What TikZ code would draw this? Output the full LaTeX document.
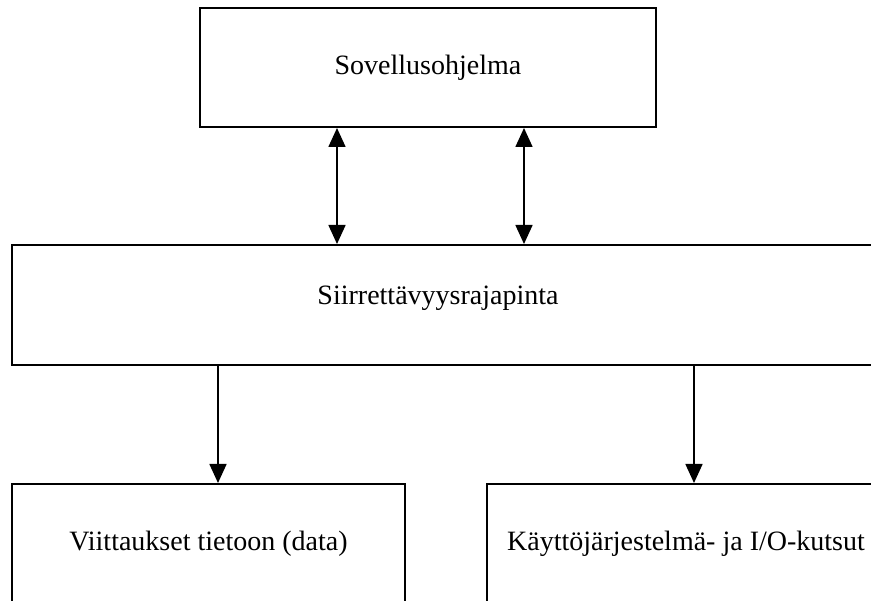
\documentclass[tikz,border=0pt]{standalone}
\usepackage{fontspec}
\setmainfont{Liberation Serif}
\usetikzlibrary{arrows.meta}
\begin{document}
\begin{tikzpicture}[x=1pt,y=-1pt,
  box/.style={draw, line width=2pt, rectangle, inner sep=0pt},
  lbl/.style={font=\fontsize{28}{33}\selectfont, inner sep=0pt},
  link/.style={line width=1.6pt, -{Triangle[width=17pt,length=19pt]}},
  duplex/.style={line width=1.6pt, {Triangle[width=17pt,length=19pt]}-{Triangle[width=17pt,length=19pt]}}]
\useasboundingbox (0,0) rectangle (871,601);
\clip (0,0) rectangle (871,601);

% boxes
\node[box, minimum width=456pt, minimum height=119pt] (app) at (428,67.5) {};
\node[box, minimum width=868pt, minimum height=120pt] (api) at (446,305) {};
\node[box, minimum width=393pt, minimum height=120pt] (data) at (208.5,544) {};
\node[box, minimum width=398pt, minimum height=120pt] (os) at (686,544) {};

% texts
\node[lbl] (appt) at (app.center) {Sovellusohjelma};
\node[lbl] (apit) at (438,298) {Siirrettävyysrajapinta};
\node[lbl] (datat) at (data.center) {Viittaukset tietoon (data)};
\node[lbl] (ost) at (os.center) {Käyttöjärjestelmä- ja I/O-kutsut};

% connector columns
\coordinate (u1) at (337,0);
\coordinate (u2) at (524,0);
\coordinate (d1) at (218,0);
\coordinate (d2) at (694,0);

\draw[duplex] (app.south -| u1) -- (api.north -| u1);
\draw[duplex] (app.south -| u2) -- (api.north -| u2);
\draw[link] (api.south -| d1) -- (data.north -| d1);
\draw[link] (api.south -| d2) -- (os.north -| d2);
\end{tikzpicture}
\end{document}
